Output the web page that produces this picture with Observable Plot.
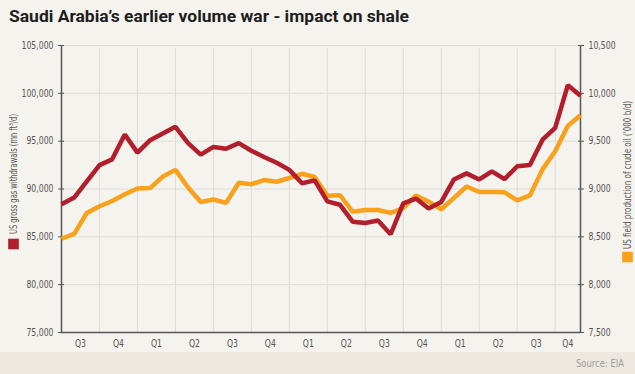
<!DOCTYPE html>
<html>
<head>
<meta charset="utf-8">
<script src="https://cdn.jsdelivr.net/npm/d3@7"></script>
<script src="https://cdn.jsdelivr.net/npm/@observablehq/plot@0.6"></script>
<style>
  html, body { margin: 0; padding: 0; background: #f5f3ee; }
  #wrap { width: 635px; height: 374px; overflow: hidden; background: #f5f3ee; }
  #title { height: 30px; }
  #footer { height: 22px; background: #ece8df; position: relative; }
</style>
</head>
<body>
<div id="wrap">
  <div id="title"><svg width="635" height="30"><text x="9" y="22" textLength="400" lengthAdjust="spacingAndGlyphs" font-family="Roboto, 'DejaVu Sans Condensed', sans-serif" font-weight="700" font-size="17" fill="#1e1e1e">Saudi Arabia’s earlier volume war - impact on shale</text></svg></div>
  <div id="chart"></div>
  <div id="footer"><svg width="635" height="22"><text x="624" y="15" text-anchor="end" textLength="48" lengthAdjust="spacingAndGlyphs" font-family="'DejaVu Sans Condensed', sans-serif" font-size="10" fill="#9d9d9d">Source: EIA</text></svg></div>
</div>
<script>
// Monthly values, Q3 (first month) through Q4 (last shown month)
const quarterLabels = ["Q3","Q4","Q1","Q2","Q3","Q4","Q1","Q2","Q3","Q4","Q1","Q2","Q3","Q4"];
const gasWithdrawals = [88400, 89100, 90800, 92500, 93100, 95700, 93800, 95100, 95800, 96500,
  94800, 93600, 94400, 94200, 94800, 94000, 93350, 92750, 92000, 90600,
  90900, 88700, 88350, 86580, 86450, 86700, 85270, 88500, 89000, 87970,
  88650, 91000, 91630, 91000, 91850, 91030, 92380, 92500, 95150, 96400,
  100850, 99750];
const crudeOutput = [8480, 8530, 8750, 8820, 8875, 8945, 9005, 9010, 9130, 9200,
  9015, 8865, 8890, 8855, 9065, 9050, 9093, 9076, 9115, 9159,
  9126, 8930, 8935, 8763, 8780, 8780, 8750, 8800, 8933, 8868,
  8788, 8907, 9026, 8968, 8968, 8965, 8882, 8933, 9205, 9395,
  9660, 9770];
const leftTicks = [75000, 80000, 85000, 90000, 95000, 100000, 105000];
const rightTicks = [7500, 8000, 8500, 9000, 9500, 10000, 10500];
const gasLabel = "US gross gas withdrawals (mn ft³/d)";
const oilLabel = "US field production of crude oil ('000 b/d)";

const red = "#b31e2c";
const orange = "#f9a11b";
const axisColor = "#555";
const gridColor = "#dedcd7";
const fontFam = "'DejaVu Sans Condensed', sans-serif";

const data = gasWithdrawals.map((g, i) => ({i, gas: g, oil: crudeOutput[i]}));
const last = data.length - 1;
const qStarts = quarterLabels.map((q, k) => k * 3);
const qBounds = qStarts.slice(1);
const qCenters = qStarts.map(s => (s + Math.min(s + 3, last)) / 2);
const ratio = 10; // right axis maps onto left axis scale

const fmt = d3.format(",");

const chart = Plot.plot({
  width: 635,
  height: 322,
  marginTop: 15,
  marginBottom: 20,
  marginLeft: 61,
  marginRight: 55,
  style: {background: "transparent", fontFamily: fontFam, fontSize: "10px", color: axisColor, overflow: "visible"},
  x: {domain: [0, last], axis: null},
  y: {domain: [75000, 105000], axis: null},
  marks: [
    Plot.ruleY(leftTicks, {stroke: gridColor, strokeWidth: 1}),
    Plot.ruleX(qBounds, {y1: 75000, y2: 105000, stroke: gridColor, strokeWidth: 1, insetBottom: -3}),
    Plot.axisY(leftTicks, {anchor: "left", tickSize: 6, dx: 3, tickPadding: 5, tickFormat: fmt, stroke: axisColor, fill: axisColor, fontSize: 10, label: null}),
    Plot.axisY(rightTicks.map(d => d * ratio), {anchor: "right", tickSize: 6, dx: -3, tickPadding: 5, tickFormat: d => fmt(d / ratio), stroke: axisColor, fill: axisColor, fontSize: 10, label: null}),
    Plot.axisX(qCenters, {anchor: "bottom", tickSize: 0, tickPadding: 7, tickFormat: (d, k) => quarterLabels[k], fill: axisColor, fontSize: 10, label: null}),
    Plot.ruleX([0, last], {stroke: axisColor, strokeWidth: 1.5}),
    Plot.ruleY([75000], {stroke: axisColor, strokeWidth: 1.5}),
    Plot.line(data, {x: "i", y: d => d.oil * ratio, stroke: orange, strokeWidth: 4.5, strokeLinejoin: "miter", strokeLinecap: "butt"}),
    Plot.line(data, {x: "i", y: "gas", stroke: red, strokeWidth: 4.5, strokeLinejoin: "miter", strokeLinecap: "butt"}),
    Plot.text([gasLabel], {frameAnchor: "left", rotate: -90, dx: -48, dy: -15, fill: axisColor, fontSize: 10, textAnchor: "middle", className: "ttl-gas"}),
    Plot.dot([gasLabel], {frameAnchor: "left", dx: -48, dy: 55, symbol: "square", r: 6, fill: red, stroke: null}),
    Plot.text([oilLabel], {frameAnchor: "right", rotate: -90, dx: 47, dy: -14, fill: axisColor, fontSize: 10, textAnchor: "middle", className: "ttl-oil"}),
    Plot.dot([oilLabel], {frameAnchor: "right", dx: 47, dy: 68, symbol: "square", r: 6, fill: orange, stroke: null})
  ]
});
document.getElementById("chart").appendChild(chart);

// Condense text to mimic the narrow typeface of the original
chart.querySelectorAll("text").forEach(t => {
  const w = t.getComputedTextLength();
  let target = w * 0.86;
  if (t.closest(".ttl-gas")) target = 120;
  if (t.closest(".ttl-oil")) target = 148;
  t.setAttribute("textLength", target);
  t.setAttribute("lengthAdjust", "spacingAndGlyphs");
});
</script>
</body>
</html>
